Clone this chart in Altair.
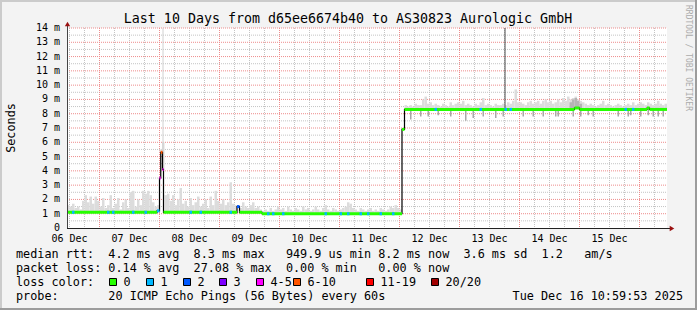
import altair as alt
import pandas as pd

# ---------------- data ----------------
title_text = "Last 10 Days from d65ee6674b40 to AS30823 Aurologic GmbH"
t_start, t_end = 11, 251  # hours since 06 Dec 00:00 (window of the graph)

day_labels = ["06 Dec", "07 Dec", "08 Dec", "09 Dec", "10 Dec",
              "11 Dec", "12 Dec", "13 Dec", "14 Dec", "15 Dec"]
day_label_hours = [12, 36, 60, 84, 108, 132, 156, 180, 204, 228]

y_ticks = list(range(0, 15))
y_tick_labels = ["0"] + [f"{v} m" for v in range(1, 15)]

loss_labels = ["0", "1", "2", "3", "4-5", "6-10", "11-19", "20/20"]
loss_colors = ["#26ff00", "#00b8ff", "#0059ff", "#7e00ff",
               "#ff00ff", "#ff5500", "#ff0000", "#a10000"]

# median rtt (ms) as segments: each runs until the next start
med_start = [11, 47, 48, 48.5, 49.2, 49.6, 79, 80, 89, 145, 146, 214, 216, 243, 244]
med_value = [1.1, 1.2, 3.5, 5.3, 4.1, 1.1, 1.5, 1.1, 1.0, 6.9, 8.3, 8.4, 8.3, 8.4, 8.3]
med_loss = ["0", "1", "4-5", "6-10", "4-5", "0", "2", "0", "0", "0", "0", "0", "0", "0", "0"]

# single hours with 1/20 lost pings
loss1_hours = [13, 27, 29, 37, 42, 60, 64, 76, 91, 93, 97, 114, 120, 123, 128,
               131, 136, 141, 158, 176, 186, 188, 234, 237]

# hourly top of the smoke (ms), hour 11 .. 250
smoke_dec06 = [1.6, 1.5, 1.7, 1.4, 1.5, 1.3, 1.9, 2.3, 1.8, 2.2, 1.7, 2.2, 1.9]
smoke_dec07 = [1.5, 2.1, 1.4, 1.6, 2.3, 1.4, 1.7, 2.1, 1.3, 1.8, 2.0, 1.4,
               2.5, 2.6, 1.5, 2.0, 1.6, 2.6, 2.4, 2.6, 2.3, 1.8, 1.5, 1.6]
smoke_dec08 = [5.5, 6.0, 2.3, 2.4, 1.9, 2.3, 1.6, 2.0, 2.8, 1.7, 1.9, 1.5,
               2.1, 1.6, 1.8, 2.2, 1.5, 1.7, 2.0, 1.4, 2.2, 1.6, 2.6, 1.9]
smoke_dec09 = [1.7, 2.0, 1.6, 1.8, 3.2, 1.7, 1.6, 1.6, 1.4, 1.8, 1.5, 1.4,
               1.6, 1.8, 1.4, 1.5, 1.3, 1.2, 1.3, 1.2, 1.4, 1.2, 1.3, 1.5]
smoke_dec10 = [1.3, 1.4, 1.2, 1.5, 1.3, 1.2, 1.4, 1.3, 1.2, 1.5, 1.3, 1.4,
               1.2, 1.3, 1.5, 1.3, 1.2, 1.4, 1.6, 1.3, 1.2, 1.4, 1.3, 1.2]
smoke_dec11 = [1.3, 1.4, 1.5, 1.8, 1.7, 1.4, 1.3, 1.2, 1.4, 1.3, 1.2, 1.3,
               1.4, 1.2, 1.3, 1.2, 1.4, 1.3, 1.2, 1.3, 1.5, 1.4, 1.6, 1.4]
smoke_dec12 = [1.3, 7.0, 8.6, 8.5, 8.6, 8.5, 8.7, 8.6, 8.6, 9.0, 9.2, 8.7,
               8.8, 8.6, 8.7, 8.6, 8.5, 8.7, 8.6, 8.5, 8.8, 8.6, 8.7, 8.8]
smoke_dec13 = [8.7, 8.9, 8.6, 8.7, 8.6, 8.5, 8.7, 8.6, 8.8, 9.1, 8.6, 8.7,
               8.6, 8.5, 8.7, 8.6, 8.6, 8.7, 8.6, 8.8, 8.7, 8.9, 9.7, 8.8]
smoke_dec14 = [8.8, 8.7, 8.6, 8.8, 8.9, 8.7, 8.8, 8.9, 8.7, 8.9, 9.0, 8.8,
               8.9, 8.7, 8.8, 9.0, 8.8, 9.1, 8.9, 9.2, 9.0, 9.1, 9.2, 9.0]
smoke_dec15 = [8.9, 8.8, 8.7, 8.6, 8.7, 8.6, 8.5, 8.6, 8.7, 8.9, 8.6, 8.7,
               8.6, 8.5, 8.6, 8.7, 8.6, 8.5, 8.6, 8.7, 8.6, 8.8, 8.6, 8.7]
smoke_dec16 = [8.8, 8.7, 8.6, 8.8, 8.7, 8.6, 8.7, 8.9, 8.7, 8.6, 8.7]

# fast pings below the median (ms)
dip_hours = [148, 152, 155, 159, 164, 170, 173, 177, 182, 185, 193, 197, 201, 206,
             207, 213, 216, 219, 221, 231, 235, 236, 240, 243, 245, 247, 249]
dip_values = [7.6, 7.8, 7.8, 7.9, 7.8, 7.5, 7.7, 7.8, 7.7, 7.8, 7.8, 7.8, 7.8, 7.8,
              7.8, 7.8, 7.8, 7.9, 7.8, 7.8, 7.8, 7.9, 7.8, 7.9, 7.8, 7.8, 7.8]

# denser smoke clump
dense_hours = [212, 213, 214, 215, 216]
dense_tops = [8.8, 9.0, 9.1, 8.9, 8.7]

# single slow pings reaching the top of the graph
outlier_hours = [49.4, 186.2]
outlier_tops = [14, 14]
outlier_kind = ["faint", "dark"]

legend_row1 = "median rtt:  4.2 ms avg  8.3 ms max   949.9 us min 8.2 ms now  3.6 ms sd  1.2   am/s"
legend_row2 = "packet loss: 0.14 % avg  27.08 % max  0.00 % min   0.00 % now"
legend_row3 = "loss color:"
legend_row4 = "probe:       20 ICMP Echo Pings (56 Bytes) every 60s"
stamp_text = "Tue Dec 16 10:59:53 2025"
side_text = "RRDTOOL / TOBI OETIKER"

# ---------------- tables ----------------
def median_at(t):
    v = med_value[0]
    for s, m in zip(med_start, med_value):
        if s <= t:
            v = m
    return v

seg_end = med_start[1:] + [t_end]
seg_df = pd.DataFrame({"start": med_start, "end": seg_end, "value": med_value, "loss": med_loss})
step_df = pd.DataFrame({"h": med_start + [t_end], "value": med_value + [med_value[-1]]})
loss1_df = pd.DataFrame({"h": loss1_hours, "h1": [h + 1 for h in loss1_hours],
                         "value": [median_at(h + 0.5) for h in loss1_hours],
                         "loss": ["1"] * len(loss1_hours)})
smoke_top = (smoke_dec06 + smoke_dec07 + smoke_dec08 + smoke_dec09 + smoke_dec10 +
             smoke_dec11 + smoke_dec12 + smoke_dec13 + smoke_dec14 + smoke_dec15 + smoke_dec16)
hours = list(range(t_start, t_end))
smoke_df = pd.DataFrame({"h": hours, "h1": [h + 1 for h in hours], "top": smoke_top,
                         "base": [median_at(h + 0.5) for h in hours]})
dip_df = pd.DataFrame({"h": [h + 0.5 for h in dip_hours], "v": dip_values,
                       "base": [median_at(h + 0.5) for h in dip_hours]})
dense_df = pd.DataFrame({"h": dense_hours, "h1": [h + 1 for h in dense_hours], "top": dense_tops,
                         "base": [median_at(h + 0.5) for h in dense_hours]})
out_df = pd.DataFrame({"h": outlier_hours, "top": outlier_tops, "kind": outlier_kind,
                       "base": [median_at(h) for h in outlier_hours]})
day_df = pd.DataFrame({"h": day_label_hours, "label": day_labels})
ytick_df = pd.DataFrame({"v": y_ticks, "label": y_tick_labels})

# ---------------- layout / style ----------------
W, H = 600, 200
FONT = "DejaVu Sans Mono"
NB = "\u00a0"
LEG = 11.8
box_x = [42, 79, 116, 152, 189, 226, 299, 364]   # legend box positions (px, layout)

xs = alt.Scale(domain=[t_start, t_end], nice=False, zero=False)
ys = alt.Scale(domain=[0, 14], nice=False, zero=False)
cs = alt.Scale(domain=loss_labels, range=loss_colors)


def X(f):
    return alt.X(f, type="quantitative", scale=xs, axis=None)


def Y(f):
    return alt.Y(f, type="quantitative", scale=ys, axis=None)


one = pd.DataFrame({"a": [0]})

minor_v = pd.DataFrame({"h": [h for h in range(12, 251, 6) if h % 24]})
major_v = pd.DataFrame({"h": list(range(24, 241, 24))})
minor_h = pd.DataFrame({"v": [i + 0.5 for i in range(14)]})
major_h = pd.DataFrame({"v": list(range(1, 15))})

GRID = "#c4c4c4"
MGRID = "#ee8c8c"
grid_minor_v = alt.Chart(minor_v).mark_rule(color=GRID, strokeDash=[1, 1], strokeWidth=1).encode(
    x=X("h"), y=alt.value(0), y2=alt.value(H))
grid_minor_h = alt.Chart(minor_h).mark_rule(color=GRID, strokeDash=[1, 1], strokeWidth=1).encode(
    y=Y("v"), x=alt.value(0), x2=alt.value(W))
grid_major_v = alt.Chart(major_v).mark_rule(color=MGRID, strokeDash=[1, 1], strokeWidth=1).encode(
    x=X("h"), y=alt.value(0), y2=alt.value(H))
grid_major_h = alt.Chart(major_h).mark_rule(color=MGRID, strokeDash=[1, 1], strokeWidth=1).encode(
    y=Y("v"), x=alt.value(0), x2=alt.value(W))

smoke = alt.Chart(smoke_df).mark_rect(color="#dcdcdc").encode(
    x=X("h"), x2="h1", y=Y("top"), y2="base")
dense = alt.Chart(dense_df).mark_rect(color="#b4b4b4").encode(
    x=X("h"), x2="h1", y=Y("top"), y2="base")
dips = alt.Chart(dip_df).mark_rule(color="#a8a8a8", strokeWidth=1.5).encode(
    x=X("h"), y=Y("v"), y2="base")
out_faint = alt.Chart(out_df).transform_filter("datum.kind == 'faint'").mark_rule(
    color="#d0d0d0", strokeWidth=1).encode(x=X("h"), y=Y("top"), y2="base")
out_dark = alt.Chart(out_df).transform_filter("datum.kind == 'dark'").mark_rule(
    color="#4a4a4a", strokeWidth=1).encode(x=X("h"), y=Y("top"), y2="base")

med_line = alt.Chart(step_df).mark_line(color="#000000", strokeWidth=1.2, interpolate="step-after").encode(
    x=X("h"), y=Y("value"))
med_color = alt.Chart(seg_df).mark_rule(strokeWidth=3).encode(
    x=X("start"), x2="end", y=Y("value"), color=alt.Color("loss:N", scale=cs, legend=None))
loss_color = alt.Chart(loss1_df).mark_rule(strokeWidth=3).encode(
    x=X("h"), x2="h1", y=Y("value"), color=alt.Color("loss:N", scale=cs, legend=None))

# y tick labels through the y scale
ylabels = alt.Chart(ytick_df).mark_text(font=FONT, fontSize=10, align="right", baseline="middle",
                                        color="#000000").encode(
    y=Y("v"), x=alt.value(-7), text="label:N")

# axes and arrows
y_axis_line = alt.Chart(one).mark_rule(color="#444444", strokeWidth=1).encode(
    x=alt.value(0.5), y=alt.value(-3), y2=alt.value(H + 0.5))
x_axis_line = alt.Chart(one).mark_rule(color="#222222", strokeWidth=1).encode(
    x=alt.value(0), x2=alt.value(W + 3), y=alt.value(H + 0.5))
arrow_up = alt.Chart(one).mark_point(shape="triangle-up", filled=True, size=28, color="#9a1010", opacity=1).encode(
    x=alt.value(0.5), y=alt.value(-4))
arrow_right = alt.Chart(one).mark_point(shape="triangle-right", filled=True, size=28, color="#9a1010", opacity=1).encode(
    x=alt.value(W + 5), y=alt.value(H + 0.5))

# frame
frame_l = alt.Chart(one).mark_rect(color="#cbcbcb").encode(
    x=alt.value(-67), x2=alt.value(-65), y=alt.value(-28), y2=alt.value(282))
frame_t = alt.Chart(one).mark_rect(color="#cbcbcb").encode(
    x=alt.value(-67), x2=alt.value(630), y=alt.value(-28), y2=alt.value(-26))
frame_r = alt.Chart(one).mark_rect(color="#9c9c9c").encode(
    x=alt.value(628), x2=alt.value(630), y=alt.value(-28), y2=alt.value(282))
frame_b = alt.Chart(one).mark_rect(color="#9c9c9c").encode(
    x=alt.value(-67), x2=alt.value(630), y=alt.value(280), y2=alt.value(282))

# texts
def label(txt, x, y, size, align="left", angle=0, color="#000000"):
    return alt.Chart(one).mark_text(text=txt.replace(" ", NB), font=FONT, fontSize=size,
                                    align=align, baseline="middle", angle=angle, color=color).encode(
        x=alt.value(x), y=alt.value(y))

title = label(title_text, 281, -9, 13.3, align="center")
ytitle = label("Seconds", -56.5, 100, LEG, align="center", angle=270)
side = label(side_text, 621, -23, 8, align="left", angle=90, color="#ababab")
row1 = label(legend_row1, -51, 226, LEG)
row2 = label(legend_row2, -51, 240, LEG)
row3 = label(legend_row3, -51, 254, LEG)
row4 = label(legend_row4, -51, 268, LEG)
stamp = label(stamp_text, 616, 268, LEG, align="right")

days = alt.Chart(day_df).mark_text(font=FONT, fontSize=10, baseline="middle", align="center",
                                   color="#000000").encode(x=X("h"), y=alt.value(210.5), text="label:N")

box_df = pd.DataFrame({"loss": loss_labels, "bx": [b + 0.5 for b in box_x],
                       "bx2": [b + 7.5 for b in box_x], "tx": [b + 14.5 for b in box_x]})
boxes = alt.Chart(box_df).mark_rect(stroke="#000000", strokeWidth=1).encode(
    x=alt.X("bx:Q", scale=None, axis=None), x2="bx2:Q",
    y=alt.value(250.5), y2=alt.value(257.5),
    color=alt.Color("loss:N", scale=cs, legend=None))
box_text = alt.Chart(box_df).mark_text(font=FONT, fontSize=LEG, align="left", baseline="middle",
                                       color="#000000").encode(
    x=alt.X("tx:Q", scale=None, axis=None), y=alt.value(254), text="loss:N")

chart = alt.layer(
    grid_minor_v, grid_minor_h, grid_major_v, grid_major_h,
    smoke, dense, dips, out_faint, out_dark,
    med_line, med_color, loss_color, ylabels,
    y_axis_line, x_axis_line, arrow_up, arrow_right,
    frame_l, frame_t, frame_r, frame_b,
    title, ytitle, side, row1, row2, row3, row4, stamp, days, boxes, box_text,
).properties(
    width=W, height=H,
    autosize=alt.AutoSizeParams(type="none"),
    padding={"left": 67, "top": 28, "right": 30, "bottom": 82},
).configure(background="#f3f3f3").configure_view(stroke=None, fill="#ffffff")

chart.save("out.html", embed_options={"renderer": "svg", "actions": False})
